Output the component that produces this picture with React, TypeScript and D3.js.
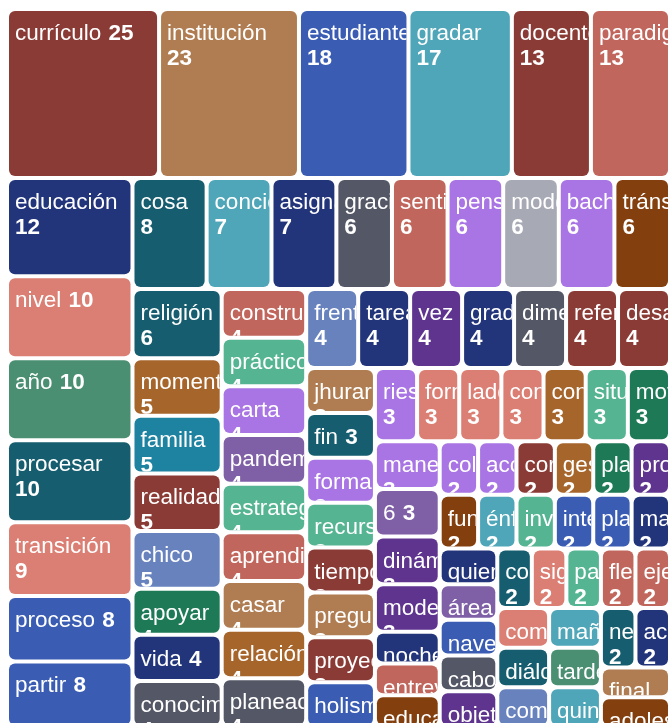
import React, { useMemo } from 'react';
import * as d3 from 'd3';

const words = [
  'currículo', 'institución', 'estudiante', 'gradar', 'docente', 'paradigma',
  'educación', 'nivel', 'año', 'procesar', 'transición', 'proceso', 'partir',
  'cosa', 'conciencia', 'asignatura', 'gracia', 'sentido', 'pensamiento', 'modo', 'bachillerato', 'tránsito',
  'religión', 'momento', 'familia', 'realidad', 'chico', 'apoyar', 'vida', 'conocimiento',
  'construcción', 'práctico', 'carta', 'pandemia', 'estrategia', 'aprendizaje', 'casar', 'relación', 'planeación',
  'frente', 'tarea', 'vez', 'grado', 'dimensión', 'referente', 'desarrollo',
  'jhurar', 'fin', 'forma', 'recurso', 'tiempo', 'pregunta', 'proyecto', 'holismo',
  'riesgo', 'formación', 'lado', 'contexto', 'concepto', 'situación', 'motivación',
  'manera', '6', 'dinámica', 'modelo',
  'noche', 'entrevista', 'educativo',
  'colegio', 'acción', 'corazón', 'gestión', 'plan', 'propuesta',
  'función', 'énfasis', 'investigación', 'interés', 'plataforma', 'maestro',
  'quien', 'área', 'navegación', 'cabo', 'objetivo',
  'comunidad', 'significado', 'padre', 'flexibilidad', 'eje',
  'compañero', 'diálogo', 'comunicación',
  'mañana', 'tarde', 'quinto',
  'necesidad', 'acuerdo',
  'final', 'adolescente',
];

const counts = [
  25, 23, 18, 17, 13, 13,
  12, 10, 10, 10, 9, 8, 8,
  8, 7, 7, 6, 6, 6, 6, 6, 6,
  6, 5, 5, 5, 5, 4, 4, 4,
  4, 4, 4, 4, 4, 4, 4, 4, 4,
  4, 4, 4, 4, 4, 4, 4,
  3, 3, 3, 3, 3, 3, 3, 3,
  3, 3, 3, 3, 3, 3, 3,
  3, 3, 3, 3,
  2, 2, 2,
  2, 2, 2, 2, 2, 2,
  2, 2, 2, 2, 2, 2,
  2, 2, 2, 2, 2,
  2, 2, 2, 2, 2,
  2, 2, 2,
  2, 2, 2,
  2, 2,
  2, 2,
];

const palette = [
  '#8B3B36', '#AF7D51', '#3A5DB3', '#4FA6B8', '#C1665C',
  '#22347A', '#165D6F', '#545766', '#A974E3', '#A7A9B4',
  '#833F0D', '#DB7E73', '#4A8F71', '#A6652B', '#1E82A1',
  '#6882BE', '#1E7A56', '#55B592', '#7F60A6', '#5F348F',
];

const colorKeys = [
  0, 1, 2, 3, 0, 4,
  5, 11, 12, 6, 11, 2, 2,
  6, 3, 5, 7, 4, 8, 9, 8, 10,
  6, 13, 14, 0, 15, 16, 5, 7,
  4, 17, 8, 18, 17, 4, 1, 13, 7,
  15, 5, 19, 5, 7, 0, 0,
  1, 6, 8, 17, 0, 1, 0, 2,
  8, 11, 11, 11, 13, 17, 16,
  8, 18, 19, 19,
  5, 4, 10,
  8, 8, 0, 13, 16, 19,
  10, 3, 17, 2, 2, 5,
  5, 18, 2, 7, 19,
  6, 11, 17, 4, 4,
  11, 6, 15,
  3, 12, 3,
  6, 5,
  1, 10,
];

const FONT_SIZE = 22.5;
const FONT_FAMILY = '"Liberation Sans", Arial, Helvetica, sans-serif';

export default function App() {
  const W = 659;
  const H = 714;

  const leaves = useMemo(() => {
    const data = {
      name: 'root',
      children: words.map((w, i) => ({ name: w, value: counts[i], color: palette[colorKeys[i]] })),
    };
    const root = d3
      .hierarchy<any>(data)
      .sum((d: any) => d.value || 0)
      .sort((a: any, b: any) => (b.value as number) - (a.value as number));
    d3.treemap<any>().size([W, H]).paddingInner(4).tile(d3.treemapSquarify)(root);
    return root.leaves() as any[];
  }, []);

  const measure = useMemo(() => {
    const canvas = document.createElement('canvas');
    const ctx = canvas.getContext('2d')!;
    return (t: string, bold: boolean) => {
      ctx.font = `${bold ? 'bold ' : ''}${FONT_SIZE}px ${FONT_FAMILY}`;
      return ctx.measureText(t).width;
    };
  }, []);

  return (
    <svg
      width={671}
      height={723}
      style={{ display: 'block', position: 'fixed', left: 0, top: 0 }}
      fontFamily={FONT_FAMILY}
    >
      <g transform="translate(9,11)">
        {leaves.map((d, i) => {
          const w = d.x1 - d.x0;
          const h = d.y1 - d.y0;
          const name = d.data.name;
          const val = String(d.value);
          const total = measure(name, false) + measure(' ', false) + measure(val, true);
          const oneLine = total + 18 <= w;
          const id = `clip-${i}`;
          return (
            <g key={i} transform={`translate(${d.x0},${d.y0})`}>
              <clipPath id={id}>
                <rect width={w} height={h} rx={6} ry={6} />
              </clipPath>
              <rect width={w} height={h} rx={6} ry={6} fill={d.data.color} />
              <g clipPath={`url(#${id})`} fill="#fff" fontSize={FONT_SIZE}>
                {oneLine ? (
                  <text x={6} y={29}>
                    {name}
                    <tspan fontWeight="bold" dx={1}>{' ' + val}</tspan>
                  </text>
                ) : (
                  <>
                    <text x={6} y={29}>{name}</text>
                    <text x={6} y={54} fontWeight="bold">{val}</text>
                  </>
                )}
              </g>
            </g>
          );
        })}
      </g>
    </svg>
  );
}
